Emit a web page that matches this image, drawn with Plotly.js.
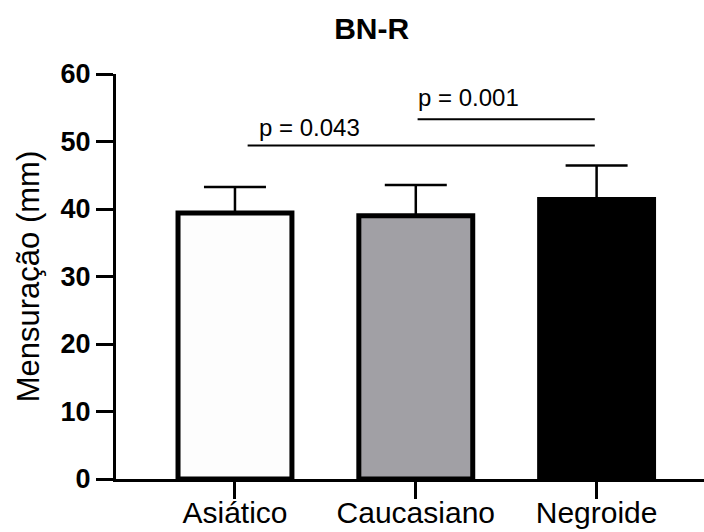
<!DOCTYPE html>
<html>
<head>
<meta charset="utf-8">
<script src="https://cdn.plot.ly/plotly-3.0.1.min.js"></script>
<style>
  html, body { margin: 0; padding: 0; background: #ffffff; }
  #chart { width: 704px; height: 532px; }
</style>
</head>
<body>
<div id="chart"></div>
<script>
// ---- data ----
const categories = ['Asiático', 'Caucasiano', 'Negroide'];
const means = [39.4, 39.0, 41.4];
const sdUpper = [3.85, 4.55, 5.05];
const sdLower = [0, 0, 0];
const yTicks = [0, 10, 20, 30, 40, 50, 60];

// significance brackets (category-index coordinates)
const sigLabels = ['p = 0.043', 'p = 0.001'];
const sigStart = [0.07, 1.01];
const sigEnd = [1.99, 1.99];
const sigLineY = [49.4, 53.3];
const sigLabelX = [0.12, 1.0];
const sigLabelY = [52.1, 56.5];

const FONT = '"Liberation Sans", Arial, sans-serif';

const barTrace = {
  type: 'bar',
  x: categories,
  y: means,
  width: 0.63,
  marker: {
    color: ['#fdfdfd', '#a1a0a5', '#000000'],
    line: { color: '#000000', width: 5 }
  },
  error_y: {
    type: 'data',
    symmetric: false,
    array: sdUpper,
    arrayminus: sdLower,
    color: '#000000',
    thickness: 2.5,
    width: 31
  },
  hoverinfo: 'skip'
};

const shapes = sigLabels.map((_, i) => ({
  type: 'line', xref: 'x', yref: 'y',
  x0: sigStart[i], x1: sigEnd[i], y0: sigLineY[i], y1: sigLineY[i],
  line: { color: '#000000', width: 2 }
}));

const annotations = sigLabels.map((t, i) => ({
  xref: 'x', yref: 'y', x: sigLabelX[i], y: sigLabelY[i],
  text: t, showarrow: false, xanchor: 'left', yanchor: 'middle',
  font: { family: FONT, size: 24, color: '#000000' }
}));

const layout = {
  width: 704, height: 532,
  margin: { l: 116, r: 0, t: 74, b: 53 },
  paper_bgcolor: '#ffffff', plot_bgcolor: '#ffffff',
  showlegend: false,
  title: {
    text: '<b>BN-R</b>',
    font: { family: FONT, size: 30, color: '#000000' },
    xref: 'container', x: 0.528, xanchor: 'center',
    yref: 'container', y: 1 - 28 / 532, yanchor: 'middle'
  },
  xaxis: {
    type: 'category',
    range: [-0.658, 2.594],
    showline: true, linecolor: '#000000', linewidth: 3,
    ticks: 'outside', ticklen: 17, tickwidth: 3, tickcolor: '#000000',
    ticklabelstandoff: -12,
    showgrid: false, zeroline: false,
    tickfont: { family: FONT, size: 30, color: '#000000' },
    fixedrange: true
  },
  yaxis: {
    range: [0, 60],
    tickvals: yTicks,
    ticktext: yTicks.map(v => '<b>' + v + '</b>'),
    showline: true, linecolor: '#000000', linewidth: 3,
    ticks: 'outside', ticklen: 17, tickwidth: 3, tickcolor: '#000000',
    showgrid: false, zeroline: false,
    tickfont: { family: FONT, size: 27, color: '#000000' },
    title: {
      text: 'Mensuração (mm)',
      font: { family: FONT, size: 31, color: '#000000' },
      standoff: 12
    },
    fixedrange: true
  },
  shapes: shapes,
  annotations: annotations
};

Plotly.newPlot('chart', [barTrace], layout, { staticPlot: true, displayModeBar: false });
</script>
</body>
</html>
